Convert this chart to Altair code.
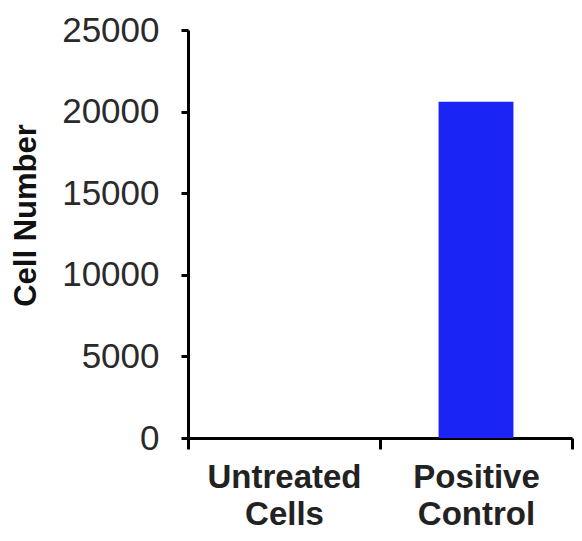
import altair as alt
import pandas as pd

categories = ["Untreated Cells", "Positive Control"]
values = [0, 20600]

df = pd.DataFrame({"group": categories, "cells": values})

chart = alt.Chart(df).mark_bar(
    color="#1a24f5", width=alt.RelativeBandSize(0.39)
).encode(
    x=alt.X("group:N", sort=categories,
            scale=alt.Scale(paddingInner=0, paddingOuter=0),
            axis=alt.Axis(title=None, labelAngle=0, tickBand="extent",
                          labelExpr="split(datum.label, ' ')",
                          labelFont="Liberation Sans", labelFontSize=33,
                          labelFontWeight="bold", labelColor="#222222",
                          labelLineHeight=37, labelPadding=12,
                          tickSize=11, tickWidth=3, tickColor="black",
                          domainColor="black", domainWidth=3,
                          labelBaseline="top")),
    y=alt.Y("cells:Q", scale=alt.Scale(domain=[0, 25000], nice=False),
            axis=alt.Axis(title="Cell Number", values=[0, 5000, 10000, 15000, 20000, 25000],
                          format="d", grid=False,
                          labelFont="Liberation Sans", labelFontSize=35,
                          labelColor="#2a2a2a", labelPadding=22,
                          tickSize=7, tickWidth=3, tickColor="black",
                          domainColor="black", domainWidth=3,
                          titleFont="Liberation Sans", titleFontSize=31,
                          titleFontWeight="bold", titleColor="#111111",
                          titleAngle=-90, titleAlign="center",
                          titleBaseline="alphabetic",
                          titleX=-153, titleY=185)),
).properties(
    width=384, height=408,
    autosize=alt.AutoSizeParams(type="none"),
    padding={"left": 180, "top": 22, "right": 2, "bottom": 93},
).configure_view(stroke=None)

chart.save("out.html", embed_options={"renderer": "svg", "actions": False})
